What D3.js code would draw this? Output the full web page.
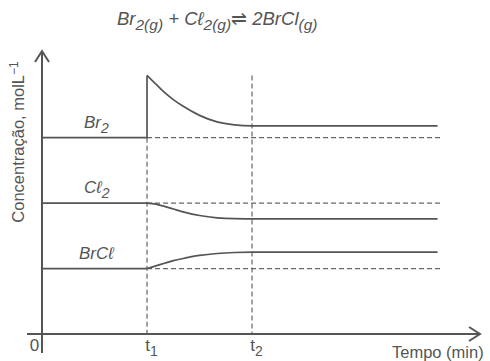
<!DOCTYPE html>
<html>
<head>
<meta charset="utf-8">
<script src="https://cdn.jsdelivr.net/npm/d3@7"></script>
<style>
  body { margin: 0; background: #fff; }
  text { font-family: "Liberation Sans", Arial, sans-serif; fill: #555; }
</style>
</head>
<body>
<script>
// chart size
const w = 490;
const h = 361;

// time marks (arbitrary units) and their labels
const tickTimes = [0, 3, 6];
const tickLabels = [["0", ""], ["t", "1"], ["t", "2"]];

// species labels
const species = [["Br", "2"], ["Cℓ", "2"], ["BrCℓ", ""]];

// concentrations before the disturbance (arbitrary units)
const initial = [3.0, 2.0, 1.0];

// curves after t1: [time, concentration]
const br2Curve = [[3, 3.95], [3.25, 3.82], [3.5, 3.69], [3.75, 3.58], [4, 3.49], [4.5, 3.34], [5, 3.24], [5.5, 3.195], [6, 3.18], [11.3, 3.18]];
const cl2Curve = [[3, 2.0], [3.25, 1.985], [3.5, 1.95], [3.75, 1.91], [4, 1.87], [4.5, 1.81], [5, 1.775], [5.5, 1.762], [6, 1.76], [11.3, 1.76]];
const brclCurve = [[3, 1.0], [3.25, 1.04], [3.5, 1.08], [3.75, 1.12], [4, 1.15], [4.5, 1.2], [5, 1.23], [5.5, 1.245], [6, 1.25], [11.3, 1.25]];
const curves = [br2Curve, cl2Curve, brclCurve];

// scales
const x = d3.scaleLinear().domain([0, 12.54]).range([42, 481]);
const y = d3.scaleLinear().domain([0, 4.4]).range([334, 46]);

const svg = d3.select("body").append("svg")
    .attr("width", w)
    .attr("height", h);

const ink = "#555";

// title
const title = svg.append("text")
    .attr("x", 117)
    .attr("y", 25)
    .style("font-size", "18.5px")
    .style("font-style", "italic");
title.append("tspan").text("Br");
title.append("tspan").attr("dy", 5).style("font-size", "15.5px").text("2(g)");
title.append("tspan").attr("dy", -5).text(" + Cℓ");
title.append("tspan").attr("dy", 5).style("font-size", "15.5px").text("2(g)");
title.append("tspan").attr("dy", -5).style("font-style", "normal").text("⇌");
title.append("tspan").text(" 2BrCl");
title.append("tspan").attr("dy", 5).style("font-size", "15.5px").text("(g)");

// dashed guides
const dash = "5,3";
svg.selectAll(".vguide")
    .data(tickTimes.slice(1))
    .enter()
    .append("line")
    .attr("x1", d => x(d))
    .attr("x2", d => x(d))
    .attr("y1", (d, i) => i === 0 ? y(initial[0]) : y(3.95))
    .attr("y2", y(0))
    .attr("stroke", "#666")
    .attr("stroke-width", 1.2)
    .attr("stroke-dasharray", dash);

svg.selectAll(".hguide")
    .data(initial)
    .enter()
    .append("line")
    .attr("x1", x(3))
    .attr("x2", x(11.45))
    .attr("y1", d => y(d))
    .attr("y2", d => y(d))
    .attr("stroke", "#666")
    .attr("stroke-width", 1.2)
    .attr("stroke-dasharray", dash);

// flat part before t1 and jump
const linear = d3.line().x(d => x(d[0])).y(d => y(d[1]));
const smooth = d3.line().x(d => x(d[0])).y(d => y(d[1])).curve(d3.curveMonotoneX);

svg.selectAll(".before")
    .data(initial)
    .enter()
    .append("path")
    .attr("d", (d, i) => linear([[0, d], [3, d], curves[i][0]]))
    .attr("fill", "none")
    .attr("stroke", ink)
    .attr("stroke-width", 1.7);

svg.selectAll(".after")
    .data(curves)
    .enter()
    .append("path")
    .attr("d", d => smooth(d))
    .attr("fill", "none")
    .attr("stroke", ink)
    .attr("stroke-width", 1.7);

// species labels
const labelX = [84, 84, 79];
const labelDy = [-10, -10, -10];
species.forEach((s, i) => {
  const t = svg.append("text")
      .attr("x", labelX[i])
      .attr("y", y(initial[i]) + labelDy[i])
      .style("font-size", "17px")
      .style("font-style", "italic");
  t.append("tspan").text(s[0]);
  if (s[1]) t.append("tspan").attr("dy", 5).style("font-size", "14px").text(s[1]);
});

// axes
const xAxis = d3.axisBottom(x)
    .tickValues(tickTimes)
    .tickSize(0)
    .tickFormat("");
const gx = svg.append("g")
    .attr("transform", `translate(0,${y(0)})`)
    .call(xAxis);
gx.select(".domain").remove();

gx.selectAll(".tick").each(function(d, i) {
  const t = d3.select(this).append("text")
      .attr("x", i === 0 ? -8 : 4)
      .attr("y", 17)
      .attr("text-anchor", "middle")
      .style("font-size", "17px");
  t.append("tspan").text(tickLabels[i][0]);
  if (tickLabels[i][1]) t.append("tspan").attr("dy", 5).style("font-size", "14px").text(tickLabels[i][1]);
});

svg.append("line")
    .attr("x1", 27).attr("x2", 480)
    .attr("y1", y(0)).attr("y2", y(0))
    .attr("stroke", ink).attr("stroke-width", 2);
svg.append("path")
    .attr("d", `M469,${y(0) - 7}L480,${y(0)}L469,${y(0) + 7}`)
    .attr("fill", "none").attr("stroke", ink).attr("stroke-width", 2);

svg.append("line")
    .attr("x1", x(0)).attr("x2", x(0))
    .attr("y1", 353).attr("y2", 51)
    .attr("stroke", ink).attr("stroke-width", 2);
svg.append("path")
    .attr("d", `M${x(0) - 7},62L${x(0)},51L${x(0) + 7},62`)
    .attr("fill", "none").attr("stroke", ink).attr("stroke-width", 2);

// axis titles
svg.append("text")
    .attr("x", 392)
    .attr("y", 358)
    .style("font-size", "16.5px")
    .text("Tempo (min)");

const yt = svg.append("text")
    .attr("transform", "translate(24,142) rotate(-90)")
    .attr("text-anchor", "middle")
    .style("font-size", "16.5px");
yt.append("tspan").text("Concentração, molL");
yt.append("tspan").attr("dy", -6).style("font-size", "12px").text("−1");
</script>
</body>
</html>
